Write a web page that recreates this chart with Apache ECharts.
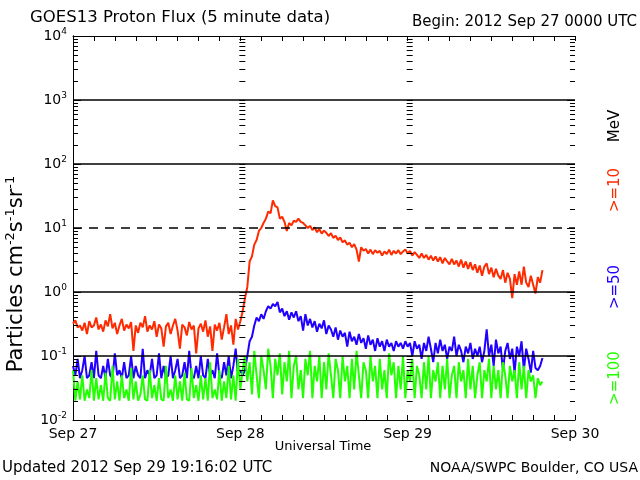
<!DOCTYPE html>
<html><head><meta charset="utf-8">
<script src="https://cdn.jsdelivr.net/npm/echarts@6/dist/echarts.min.js"></script>
<style>html,body{margin:0;padding:0;background:#fff}#c{width:640px;height:480px}</style>
</head><body><div id="c"></div>
<script>
// 20-minute samples starting 2012 Sep 27 00:00 UTC (x in hours)
const stepHours = 1 / 3;
const dayLabels = ['Sep 27', 'Sep 28', 'Sep 29', 'Sep 30'];
const dayHours = [0, 24, 48, 72];
const decadeExponents = [-2, -1, 0, 1, 2, 3, 4];
const gridSolid = [0.1, 1, 100, 1000];
const gridDashed = [10];

const flux10 = [
0.32,0.36,0.28,0.30,0.25,0.33,0.22,0.35,0.28,0.30,0.40,0.26,0.31,0.24,0.36,0.29,0.45,0.27,0.33,0.22,0.30,0.38,0.25,0.31,
0.27,0.34,0.12,0.30,0.23,0.33,0.28,0.42,0.24,0.30,0.26,0.35,0.20,0.31,0.27,0.14,0.29,0.33,0.22,0.30,0.38,0.25,0.13,0.31,
0.28,0.21,0.34,0.26,0.30,0.11,0.27,0.32,0.24,0.36,0.20,0.29,0.12,0.31,0.25,0.33,0.18,0.28,0.45,0.22,0.30,0.15,0.38,0.26,
0.35,0.5,0.8,1.2,3.0,3.6,5.5,6.5,9.0,10,12,14,18,17,27,22,21,14,15,12.5,9,12,11,13,12.5,14,12.5,12,
11,10,10.8,9.3,10.2,8.6,9.6,8.2,9.1,8.4,7.5,8.3,7.0,7.6,6.5,7.1,6.0,6.4,5.5,5.9,
5.0,5.6,4.6,3.0,5.0,4.4,4.7,4.0,4.6,3.9,4.5,4.1,4.4,3.7,4.3,3.9,4.6,3.8,4.4,4.0,
4.5,3.9,4.3,4.6,4.0,4.4,3.7,4.2,3.8,3.4,4.0,3.4,3.8,3.2,3.7,3.1,3.6,3.0,3.5,2.8,
3.4,3.0,2.7,3.3,2.7,3.1,2.5,3.2,2.4,3.0,2.3,2.9,2.2,2.7,2.0,2.6,1.8,2.5,2.8,1.9,
2.4,1.7,2.3,1.8,1.6,2.2,1.4,2.0,1.6,0.8,1.9,1.3,2.1,1.3,2.5,1.4,1.2,1.8,1.3,0.95,
1.7,1.4,2.2
];
const flux50 = [
0.07,0.05,0.09,0.045,0.06,0.10,0.045,0.05,0.08,0.045,0.12,0.05,0.045,0.07,0.045,0.09,0.05,0.045,0.11,0.05,0.06,0.045,0.08,0.045,
0.05,0.10,0.045,0.07,0.05,0.045,0.13,0.045,0.06,0.05,0.09,0.045,0.05,0.11,0.045,0.07,0.045,0.05,0.10,0.045,0.06,0.09,0.045,0.05,
0.08,0.045,0.12,0.05,0.045,0.07,0.045,0.10,0.05,0.045,0.09,0.05,0.06,0.045,0.11,0.05,0.045,0.08,0.05,0.10,0.045,0.07,0.13,0.05,
0.06,0.05,0.06,0.1,0.17,0.2,0.3,0.4,0.35,0.45,0.38,0.5,0.6,0.55,0.65,0.6,0.7,0.48,0.55,0.42,0.5,0.37,0.48,0.4,
0.5,0.35,0.42,0.25,0.45,0.3,0.38,0.28,0.35,0.24,0.32,0.27,0.36,0.22,0.3,0.26,0.2,0.28,0.18,0.25,0.2,0.23,0.14,0.24,
0.17,0.2,0.15,0.22,0.16,0.19,0.13,0.21,0.15,0.18,0.12,0.19,0.14,0.17,0.12,0.18,0.14,0.16,0.12,0.17,0.14,0.16,0.13,0.17,
0.14,0.16,0.1,0.17,0.13,0.15,0.09,0.16,0.12,0.2,0.13,0.08,0.16,0.11,0.18,0.12,0.15,0.09,0.14,0.12,0.2,0.1,0.15,0.12,
0.08,0.14,0.11,0.16,0.09,0.13,0.1,0.14,0.08,0.12,0.26,0.1,0.15,0.07,0.18,0.11,0.14,0.06,0.12,0.16,0.09,0.13,0.055,0.14,
0.1,0.17,0.06,0.13,0.09,0.055,0.12,0.065,0.06,0.07,0.093
];
const flux100 = [
0.06,0.02,0.04,0.021,0.05,0.02,0.03,0.022,0.06,0.02,0.045,0.021,0.035,0.02,0.055,0.022,0.02,0.07,0.021,0.04,0.02,0.05,0.022,0.03,
0.02,0.065,0.021,0.04,0.02,0.025,0.05,0.021,0.02,0.06,0.022,0.035,0.02,0.045,0.021,0.02,0.07,0.022,0.03,0.02,0.05,0.021,0.04,0.02,
0.055,0.021,0.02,0.065,0.022,0.035,0.02,0.05,0.021,0.045,0.02,0.08,0.022,0.03,0.021,0.06,0.02,0.04,0.022,0.07,0.021,0.05,0.02,0.09,
0.03,0.06,0.1,0.04,0.08,0.025,0.12,0.05,0.022,0.1,0.06,0.03,0.13,0.07,0.022,0.09,0.05,0.11,0.025,0.08,0.04,0.12,0.022,0.07,
0.1,0.03,0.06,0.022,0.09,0.05,0.12,0.022,0.07,0.04,0.1,0.022,0.08,0.03,0.11,0.05,0.022,0.09,0.06,0.022,0.1,0.04,0.07,0.022,
0.09,0.03,0.12,0.05,0.022,0.08,0.06,0.022,0.1,0.04,0.07,0.022,0.09,0.03,0.06,0.022,0.11,0.05,0.08,0.022,0.07,0.03,0.1,0.022,
0.06,0.04,0.09,0.022,0.07,0.05,0.022,0.08,0.03,0.1,0.022,0.06,0.04,0.08,0.022,0.07,0.03,0.09,0.022,0.05,0.07,0.022,0.08,0.04,
0.06,0.022,0.09,0.03,0.07,0.022,0.05,0.08,0.022,0.06,0.04,0.09,0.022,0.07,0.03,0.06,0.022,0.08,0.05,0.022,0.07,0.04,0.06,0.022,
0.08,0.03,0.07,0.022,0.06,0.04,0.05,0.022,0.045,0.035,0.04
];

const FONT = 'DejaVu Sans';
const RED = '#ff2a00', BLUE = '#2000ff', GREEN = '#22ff00';
const toXY = arr => arr.map((v, i) => [i * stepHours, v]);

const tickData = [];
decadeExponents.forEach(e => {
  tickData.push([0, Math.pow(10, e), 1]);
  if (e < 4) for (let m = 2; m <= 9; m++) tickData.push([0, m * Math.pow(10, e), 0]);
});

function renderTicks(params, api) {
  const v = api.value(1), major = api.value(2);
  const p0 = api.coord([dayHours[0], v]);
  const y = Math.round(p0[1]) + 0.5;
  const L = major ? 8 : 5;
  const kids = [];
  const seg = (x1, x2) => kids.push({type: 'line', shape: {x1: x1, y1: y, x2: x2, y2: y}, style: {stroke: '#000', lineWidth: 1}});
  const xl = p0[0], xr = api.coord([dayHours[3], v])[0];
  seg(xl, xl + L); seg(xr - L, xr);
  [dayHours[1], dayHours[2]].forEach(h => { const xd = api.coord([h, v])[0]; seg(xd - 1, xd + 5); });
  return {type: 'group', children: kids};
}

const xAxisBase = {
  type: 'value', min: 0, max: 72, interval: 3,
  axisLine: {show: true, lineStyle: {color: '#000', width: 1}},
  axisTick: {show: true, inside: true, length: 5, lineStyle: {color: '#000'}},
  splitLine: {show: false}
};
const yAxisBase = {
  type: 'log', logBase: 10, min: 0.01, max: 10000, splitNumber: 6,
  axisLine: {show: true, lineStyle: {color: '#000', width: 1}},
  axisTick: {show: false},
  splitLine: {show: false}
};

const chart = echarts.init(document.getElementById('c'), null, {renderer: 'canvas'});
chart.setOption({
  animation: false,
  backgroundColor: '#fff',
  grid: {left: 73, right: 65, top: 36, bottom: 60},
  xAxis: [
    Object.assign({}, xAxisBase, {
      position: 'bottom',
      axisLabel: {
        show: true, margin: 7, color: '#000', fontFamily: FONT, fontSize: 14, showMaxLabel: true, showMinLabel: true,
        formatter: v => { const k = dayHours.indexOf(v); return k >= 0 ? dayLabels[k] : ''; }
      }
    }),
    Object.assign({}, xAxisBase, {position: 'top', axisLabel: {show: false}})
  ],
  yAxis: [
    Object.assign({}, yAxisBase, {
      position: 'left',
      axisLabel: {
        show: true, margin: 6, color: '#000',
        formatter: v => '{b|10}{s|' + Math.round(Math.log10(v)) + '}',
        rich: {
          b: {fontFamily: FONT, fontSize: 14, color: '#000', lineHeight: 18},
          s: {fontFamily: FONT, fontSize: 9, color: '#000', lineHeight: 18, verticalAlign: 'top', padding: [0, 0, 8, 0]}
        }
      }
    }),
    Object.assign({}, yAxisBase, {position: 'right', axisLabel: {show: false}})
  ],
  series: [
    {
      type: 'custom', coordinateSystem: 'cartesian2d', renderItem: renderTicks, data: tickData,
      silent: true, z: 6, clip: false
    },
    {
      name: '>=10', type: 'line', data: toXY(flux10), showSymbol: false, symbol: 'none',
      lineStyle: {color: RED, width: 2}, z: 2,
      markLine: {
        silent: true, symbol: ['none', 'none'], label: {show: false}, animation: false,
        lineStyle: {color: '#000', width: 1.5, type: 'solid'},
        data: gridSolid.map(v => ({yAxis: v})).concat(gridDashed.map(v => ({yAxis: v, lineStyle: {type: [9, 7], color: '#000', width: 1.5}})))
      }
    },
    {name: '>=50', type: 'line', data: toXY(flux50), showSymbol: false, symbol: 'none', lineStyle: {color: BLUE, width: 2}, z: 3},
    {name: '>=100', type: 'line', data: toXY(flux100), showSymbol: false, symbol: 'none', lineStyle: {color: GREEN, width: 2}, z: 4}
  ],
  graphic: [
    {type: 'text', x: 30, y: 18, style: {text: 'GOES13 Proton Flux (5 minute data)', fontFamily: FONT, fontSize: 16.5, fill: '#000', align: 'left', verticalAlign: 'middle'}},
    {type: 'text', x: 637, y: 22, style: {text: 'Begin: 2012 Sep 27 0000 UTC', fontFamily: FONT, fontSize: 15, fill: '#000', align: 'right', verticalAlign: 'middle'}},
    {type: 'text', x: 323, y: 447, style: {text: 'Universal Time', fontFamily: FONT, fontSize: 13, fill: '#000', align: 'center', verticalAlign: 'middle'}},
    {type: 'text', x: 2, y: 468, style: {text: 'Updated 2012 Sep 29 19:16:02 UTC', fontFamily: FONT, fontSize: 15, fill: '#000', align: 'left', verticalAlign: 'middle'}},
    {type: 'text', x: 638, y: 468, style: {text: 'NOAA/SWPC Boulder, CO USA', fontFamily: FONT, fontSize: 14, fill: '#000', align: 'right', verticalAlign: 'middle'}},
    {type: 'text', x: 17, y: 274, rotation: Math.PI / 2, style: {
      text: '{a|Particles cm}{s|-2}{a|s}{s|-1}{a|sr}{s|-1}', align: 'center', verticalAlign: 'middle',
      rich: {
        a: {fontFamily: FONT, fontSize: 21, fill: '#000', lineHeight: 26},
        s: {fontFamily: FONT, fontSize: 13, fill: '#000', lineHeight: 26, verticalAlign: 'top', padding: [0, 0, 11, 0]}
      }
    }},
    {type: 'text', x: 615, y: 126, rotation: Math.PI / 2, style: {text: 'MeV', fontFamily: FONT, fontSize: 15, fill: '#000', align: 'center', verticalAlign: 'middle'}},
    {type: 'text', x: 615, y: 190, rotation: Math.PI / 2, style: {text: '>=10', fontFamily: FONT, fontSize: 15, fill: RED, align: 'center', verticalAlign: 'middle'}},
    {type: 'text', x: 615, y: 287, rotation: Math.PI / 2, style: {text: '>=50', fontFamily: FONT, fontSize: 15, fill: BLUE, align: 'center', verticalAlign: 'middle'}},
    {type: 'text', x: 615, y: 378, rotation: Math.PI / 2, style: {text: '>=100', fontFamily: FONT, fontSize: 15, fill: GREEN, align: 'center', verticalAlign: 'middle'}}
  ]
});
</script>
</body></html>
